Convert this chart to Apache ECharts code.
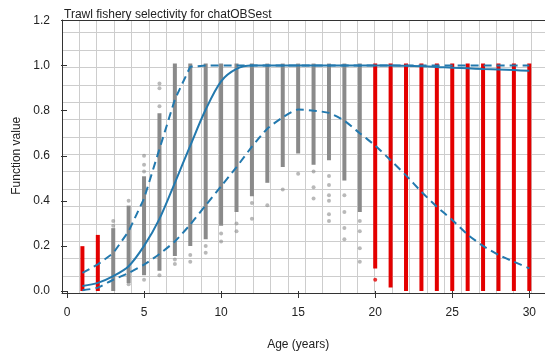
<!DOCTYPE html>
<html>
<head>
<meta charset="utf-8">
<script src="https://cdn.jsdelivr.net/npm/echarts@6/dist/echarts.min.js"></script>
<style>
  html, body { margin: 0; padding: 0; background: #fff; }
  #chart { width: 545px; height: 356px; }
</style>
</head>
<body>
<div id="chart"></div>
<script>
// ages and fitted selectivity
var ages = [1, 2, 3, 4, 5, 6, 7, 8, 9, 10, 11, 12, 13, 14, 15, 16, 17, 18, 19, 20, 21, 22, 23, 24, 25, 26, 27, 28, 29, 30];
var selex = [0.022, 0.036, 0.066, 0.11, 0.2, 0.32, 0.48, 0.645, 0.805, 0.93, 0.985, 1, 1, 1, 1, 1, 1, 1, 1, 1, 1, 0.999, 0.997, 0.994, 0.99, 0.988, 0.985, 0.983, 0.98, 0.977];
var upperCI = [0.08, 0.118, 0.168, 0.265, 0.41, 0.63, 0.85, 0.995, 1, 1, 1, 1, 1, 1, 1, 1, 1, 1, 1, 1, 1, 1, 1, 1, 1, 1, 1, 1, 1, 1];
var lowerCI = [0.003, 0.015, 0.05, 0.08, 0.117, 0.164, 0.22, 0.295, 0.38, 0.465, 0.55, 0.64, 0.72, 0.77, 0.805, 0.8, 0.79, 0.755, 0.7, 0.645, 0.58, 0.513, 0.44, 0.374, 0.315, 0.25, 0.2, 0.16, 0.13, 0.1];

// dense column of draws at each age (low, high); red = fixed / not estimated ages
var colLow  = [0, 0, 0, 0.035, 0.07, 0.09, 0.155, 0.2, 0.23, 0.29, 0.35, 0.42, 0.48, 0.55, 0.61, 0.56, 0.58, 0.49, 0.35, 0.1, 0.015, 0, 0, 0, 0, 0, 0, 0, 0, 0];
var colHigh = [0.19, 0.24, 0.27, 0.37, 0.5, 0.78, 1, 1, 1, 1, 1, 1, 1, 1, 1, 1, 1, 1, 1, 1, 1, 1, 1, 1, 1, 1, 1, 1, 1, 1];
var colRed  = [1, 1, 0, 0, 0, 0, 0, 0, 0, 0, 0, 0, 0, 0, 0, 0, 0, 0, 0, 1, 1, 1, 1, 1, 1, 1, 1, 1, 1, 1];

// scattered single draws outside the dense part
var sparseAge = [3, 3, 4, 4, 5, 5, 5, 5, 6, 6, 6, 6, 7, 7, 8, 8, 9, 9, 10, 10, 11, 11, 12, 12, 13, 14, 15, 16, 16, 16, 17, 17, 17, 17, 17, 17, 18, 18, 18, 18, 19, 19, 19, 19];
var sparseVal = [0.29, 0.31, 0.4, 0.03, 0.53, 0.56, 0.6, 0.05, 0.82, 0.9, 0.92, 0.07, 0.12, 0.14, 0.16, 0.13, 0.2, 0.17, 0.255, 0.22, 0.3, 0.265, 0.39, 0.32, 0.38, 0.45, 0.52, 0.53, 0.46, 0.41, 0.51, 0.47, 0.425, 0.4, 0.34, 0.31, 0.425, 0.35, 0.28, 0.23, 0.31, 0.265, 0.19, 0.13];
var redSparseAge = [20];
var redSparseVal = [0.05];

var yTicks = ['0.0', '0.2', '0.4', '0.6', '0.8', '1.0', '1.2'];

var RED = '#e30000';
var GRAY = '#8a8a8a';
var BLUE = '#2379ae';
var AXIS = '#333';
var FONT = 'Liberation Sans, Arial, sans-serif';

function pairs(xs, ys) {
  return xs.map(function (x, i) { return [x, ys[i]]; });
}

var colData = ages.map(function (a, i) { return [a, colLow[i], colHigh[i]]; });

var chart = echarts.init(document.getElementById('chart'));
chart.setOption({
  animation: false,
  backgroundColor: '#fff',
  title: {
    text: 'Trawl fishery selectivity for chatOBSest',
    left: 59, top: 4,
    textStyle: { fontSize: 12, fontWeight: 'normal', color: '#222', fontFamily: FONT }
  },
  grid: [
    { left: 62, top: 20, right: 0, bottom: 62.7 },   // background frame with paper grid
    { left: 67, top: 20.5, right: 15.7, bottom: 62.7 } // data area
  ],
  xAxis: [
    {
      gridIndex: 0, type: 'value', min: 0, max: 27.8, interval: 1,
      axisLabel: { show: false }, axisTick: { show: false },
      axisLine: { show: true, lineStyle: { color: AXIS, width: 1 } },
      splitLine: { show: true, lineStyle: { color: '#cdcdcd', width: 1 } }
    },
    {
      gridIndex: 1, type: 'value', min: 0, max: 30, interval: 5,
      axisLine: { show: false },
      axisTick: { show: true, length: 7, lineStyle: { color: AXIS } },
      axisLabel: { margin: 16, fontSize: 12, color: '#222', fontFamily: FONT },
      splitLine: { show: false },
      name: 'Age (years)', nameLocation: 'middle', nameGap: 48,
      nameTextStyle: { fontSize: 12, color: '#222', fontFamily: FONT }
    },
    {
      gridIndex: 0, type: 'value', position: 'top', min: 0, max: 27.8,
      axisLabel: { show: false }, axisTick: { show: false }, splitLine: { show: false },
      axisLine: { show: true, lineStyle: { color: AXIS, width: 1 } }
    }
  ],
  yAxis: [
    {
      gridIndex: 0, type: 'value', min: 0, max: 15.73, interval: 1,
      axisLabel: { show: false }, axisTick: { show: false },
      axisLine: { show: true, lineStyle: { color: AXIS, width: 1 } },
      splitLine: { show: true, lineStyle: { color: '#cdcdcd', width: 1 } }
    },
    {
      gridIndex: 1, type: 'value', min: 0, max: 1.2, interval: 0.2, offset: 5,
      axisLine: { show: false },
      axisTick: { show: true, length: 6, lineStyle: { color: AXIS } },
      axisLabel: {
        margin: 12, fontSize: 12, color: '#222', fontFamily: FONT,
        formatter: function (v) { return yTicks[Math.round(v / 0.2)]; }
      },
      splitLine: { show: false },
      name: 'Function value', nameLocation: 'middle', nameGap: 37,
      nameTextStyle: { fontSize: 12, color: '#222', fontFamily: FONT }
    }
  ],
  series: [
    {
      type: 'custom', xAxisIndex: 1, yAxisIndex: 1, z: 2, clip: false,
      data: colData,
      renderItem: function (params, api) {
        var top = api.coord([api.value(0), api.value(2)]);
        var bot = api.coord([api.value(0), api.value(1)]);
        return {
          type: 'rect',
          shape: { x: top[0] - 2, y: top[1] - 2, width: 4, height: bot[1] - top[1] + 2 },
          style: { fill: colRed[params.dataIndex] ? RED : GRAY }
        };
      }
    },
    {
      type: 'scatter', xAxisIndex: 1, yAxisIndex: 1, z: 2,
      symbolSize: 4, itemStyle: { color: GRAY, opacity: 0.6 },
      data: pairs(sparseAge, sparseVal)
    },
    {
      type: 'scatter', xAxisIndex: 1, yAxisIndex: 1, z: 2,
      symbolSize: 4, itemStyle: { color: RED },
      data: pairs(redSparseAge, redSparseVal)
    },
    {
      type: 'line', xAxisIndex: 1, yAxisIndex: 1, z: 5, symbol: 'none', smooth: 0.3,
      lineStyle: { color: BLUE, width: 2 },
      data: pairs(ages, selex)
    },
    {
      type: 'line', xAxisIndex: 1, yAxisIndex: 1, z: 5, symbol: 'none',
      lineStyle: { color: BLUE, width: 2, type: [8, 5] },
      data: pairs(ages, upperCI)
    },
    {
      type: 'line', xAxisIndex: 1, yAxisIndex: 1, z: 5, symbol: 'none', smooth: 0.2,
      lineStyle: { color: BLUE, width: 2, type: [8, 5] },
      data: pairs(ages, lowerCI)
    }
  ]
});
</script>
</body>
</html>
